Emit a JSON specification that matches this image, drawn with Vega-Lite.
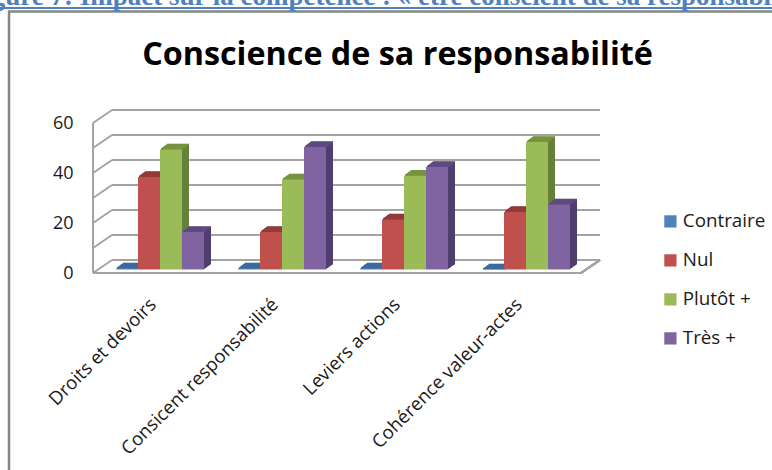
{"$schema":"https://vega.github.io/schema/vega-lite/v6.json","width":507,"height":165,"autosize":{"type":"none"},"padding":{"left":93,"top":108,"right":172,"bottom":197},"background":"white","view":{"stroke":null},
"title":{"text":"  Figure 7: Impact sur la compétence : « être conscient de sa responsabilité »","subtitle":"Conscience de sa responsabilité","anchor":"middle","dx":51,"font":"Liberation Serif","fontSize":27,"fontWeight":"bold","color":"#4f81bd","subtitleFont":"Open Sans","subtitleFontSize":32.3,"subtitleFontWeight":700,"subtitleColor":"#000000","subtitlePadding":28,"offset":-65},
"data":{"values":[
{"c":"Droits et devoirs","s":"Contraire","v":0.4},{"c":"Droits et devoirs","s":"Nul","v":37},{"c":"Droits et devoirs","s":"Plutôt  +","v":48},{"c":"Droits et devoirs","s":"Très +","v":15},
{"c":"Consicent responsabilité","s":"Contraire","v":0.4},{"c":"Consicent responsabilité","s":"Nul","v":15},{"c":"Consicent responsabilité","s":"Plutôt  +","v":36},{"c":"Consicent responsabilité","s":"Très +","v":49},
{"c":"Leviers actions","s":"Contraire","v":0.4},{"c":"Leviers actions","s":"Nul","v":20},{"c":"Leviers actions","s":"Plutôt  +","v":37.5},{"c":"Leviers actions","s":"Très +","v":41},
{"c":"Cohérence valeur-actes","s":"Contraire","v":0},{"c":"Cohérence valeur-actes","s":"Nul","v":23},{"c":"Cohérence valeur-actes","s":"Plutôt  +","v":51},{"c":"Cohérence valeur-actes","s":"Très +","v":26}
]},
"resolve":{"scale":{"x":"independent","color":"independent"}},
"layer":[
{"data":{"values":[{"t":0},{"t":10},{"t":20},{"t":30},{"t":40},{"t":50},{"t":60}]},
 "transform":[{"calculate":"datum.t+5.2","as":"b"}],
 "layer":[
 {"mark":{"type":"rule","color":"#a3a3a3","strokeWidth":2},"encoding":{"x":{"datum":19,"type":"quantitative","scale":{"domain":[0,507],"nice":false,"zero":false},"axis":null},"x2":{"datum":507},"y":{"field":"b","type":"quantitative","scale":{"domain":[0,66],"nice":false},"axis":{"values":[0,10,20,30,40,50,60],"title":null,"domain":false,"ticks":false,"grid":false,"labelOverlap":false,"labelFont":"Open Sans","labelFontSize":18,"labelColor":"#1a1a1a","labelPadding":20}}}},
 {"mark":{"type":"rule","color":"#a3a3a3","strokeWidth":2},"encoding":{"x":{"datum":0,"type":"quantitative","scale":{"domain":[0,507],"nice":false,"zero":false},"axis":null},"x2":{"datum":19},"y":{"field":"t","type":"quantitative"},"y2":{"field":"b"}}},
 {"mark":{"type":"rule","color":"#a3a3a3","strokeWidth":2},"encoding":{"x":{"datum":0,"type":"quantitative","axis":null},"y":{"datum":0,"type":"quantitative"},"y2":{"datum":60}}},
 {"mark":{"type":"rule","color":"#a3a3a3","strokeWidth":2},"encoding":{"x":{"datum":0,"type":"quantitative","axis":null},"x2":{"datum":488},"y":{"datum":0,"type":"quantitative"}}},
 {"mark":{"type":"rule","color":"#a3a3a3","strokeWidth":2},"encoding":{"x":{"datum":488,"type":"quantitative","axis":null},"x2":{"datum":507},"y":{"datum":0,"type":"quantitative"},"y2":{"datum":5.2}}}
 ]},
{"encoding":{"xOffset":{"field":"s","type":"nominal","sort":null},"y":{"field":"v","type":"quantitative"},"color":{"field":"s","type":"nominal","sort":null,"legend":null,"scale":{"range":["#31587f","#7f3532","#65803a","#503e6e"]}}},
 "resolve":{"scale":{"x":"independent"}},
 "layer":[
 {"mark":{"type":"bar","yOffset":-8.5},"encoding":{"x":{"field":"c","type":"nominal","sort":null,"axis":null,"scale":{"range":[13,501],"paddingInner":0.2787,"paddingOuter":0.1393}}}},
 {"mark":{"type":"bar","yOffset":-7.8},"encoding":{"x":{"field":"c","type":"nominal","sort":null,"axis":null,"scale":{"range":[12,500],"paddingInner":0.2787,"paddingOuter":0.1393}}}},
 {"mark":{"type":"bar","yOffset":-7.1},"encoding":{"x":{"field":"c","type":"nominal","sort":null,"axis":null,"scale":{"range":[11,499],"paddingInner":0.2787,"paddingOuter":0.1393}}}},
 {"mark":{"type":"bar","yOffset":-6.4},"encoding":{"x":{"field":"c","type":"nominal","sort":null,"axis":null,"scale":{"range":[10,498],"paddingInner":0.2787,"paddingOuter":0.1393}}}},
 {"mark":{"type":"bar","yOffset":-5.6},"encoding":{"x":{"field":"c","type":"nominal","sort":null,"axis":null,"scale":{"range":[9,497],"paddingInner":0.2787,"paddingOuter":0.1393}}}},
 {"mark":{"type":"bar","yOffset":-4.9},"encoding":{"x":{"field":"c","type":"nominal","sort":null,"axis":null,"scale":{"range":[8,496],"paddingInner":0.2787,"paddingOuter":0.1393}}}},
 {"mark":{"type":"bar","yOffset":-4.2},"encoding":{"x":{"field":"c","type":"nominal","sort":null,"axis":null,"scale":{"range":[7,495],"paddingInner":0.2787,"paddingOuter":0.1393}}}}
 ]},
{"encoding":{"xOffset":{"field":"s","type":"nominal","sort":null},"y":{"field":"v","type":"quantitative"},"color":{"field":"s","type":"nominal","sort":null,"legend":null,"scale":{"range":["#3b6a9e","#943a38","#77933c","#5f4a80"]}}},
 "resolve":{"scale":{"x":"independent"}},
 "layer":[
 {"mark":{"type":"tick","orient":"horizontal","size":22,"thickness":1.6,"opacity":1,"yOffset":-8.5},"encoding":{"x":{"field":"c","type":"nominal","sort":null,"axis":null,"scale":{"range":[13,501],"paddingInner":0.2787,"paddingOuter":0.1393}}}},
 {"mark":{"type":"tick","orient":"horizontal","size":22,"thickness":1.6,"opacity":1,"yOffset":-7.8},"encoding":{"x":{"field":"c","type":"nominal","sort":null,"axis":null,"scale":{"range":[12,500],"paddingInner":0.2787,"paddingOuter":0.1393}}}},
 {"mark":{"type":"tick","orient":"horizontal","size":22,"thickness":1.6,"opacity":1,"yOffset":-7.1},"encoding":{"x":{"field":"c","type":"nominal","sort":null,"axis":null,"scale":{"range":[11,499],"paddingInner":0.2787,"paddingOuter":0.1393}}}},
 {"mark":{"type":"tick","orient":"horizontal","size":22,"thickness":1.6,"opacity":1,"yOffset":-6.4},"encoding":{"x":{"field":"c","type":"nominal","sort":null,"axis":null,"scale":{"range":[10,498],"paddingInner":0.2787,"paddingOuter":0.1393}}}},
 {"mark":{"type":"tick","orient":"horizontal","size":22,"thickness":1.6,"opacity":1,"yOffset":-5.6},"encoding":{"x":{"field":"c","type":"nominal","sort":null,"axis":null,"scale":{"range":[9,497],"paddingInner":0.2787,"paddingOuter":0.1393}}}},
 {"mark":{"type":"tick","orient":"horizontal","size":22,"thickness":1.6,"opacity":1,"yOffset":-4.9},"encoding":{"x":{"field":"c","type":"nominal","sort":null,"axis":null,"scale":{"range":[8,496],"paddingInner":0.2787,"paddingOuter":0.1393}}}},
 {"mark":{"type":"tick","orient":"horizontal","size":22,"thickness":1.6,"opacity":1,"yOffset":-4.2},"encoding":{"x":{"field":"c","type":"nominal","sort":null,"axis":null,"scale":{"range":[7,495],"paddingInner":0.2787,"paddingOuter":0.1393}}}}
 ]},
{"mark":{"type":"bar","yOffset":-3.5},
 "encoding":{"x":{"field":"c","type":"nominal","sort":null,"title":null,"scale":{"range":[6,494],"paddingInner":0.2787,"paddingOuter":0.1393},"axis":{"labelAngle":-45,"labelAlign":"right","labelBaseline":"middle","domain":false,"ticks":false,"labelFont":"Open Sans","labelFontSize":18.6,"labelColor":"#1a1a1a","labelPadding":28,"labelOffset":-7,"labelLimit":400}},"xOffset":{"field":"s","type":"nominal","sort":null},"y":{"field":"v","type":"quantitative"},"color":{"field":"s","type":"nominal","sort":null,"scale":{"range":["#4f81bd","#c0504d","#9bbb59","#8064a2"]},"legend":{"orient":"none","legendX":568,"legendY":104,"title":null,"symbolType":"square","symbolSize":150,"symbolStrokeWidth":0,"labelFont":"Open Sans","labelFontSize":18.8,"labelColor":"#1a1a1a","labelOffset":3,"rowPadding":19}}}},
{"data":{"values":[{"n":1}]},"layer":[
 {"mark":{"type":"rule","color":"#4f81bd","strokeWidth":2},"encoding":{"x":{"value":-93},"x2":{"value":679},"y":{"value":-100}}},
 {"mark":{"type":"rule","color":"#868686","strokeWidth":2.5},"encoding":{"x":{"value":-85},"x2":{"value":679},"y":{"value":-96.5}}},
 {"mark":{"type":"rule","color":"#868686","strokeWidth":2.5},"encoding":{"x":{"value":-84},"y":{"value":-97},"y2":{"value":362}}}
]}
]}
